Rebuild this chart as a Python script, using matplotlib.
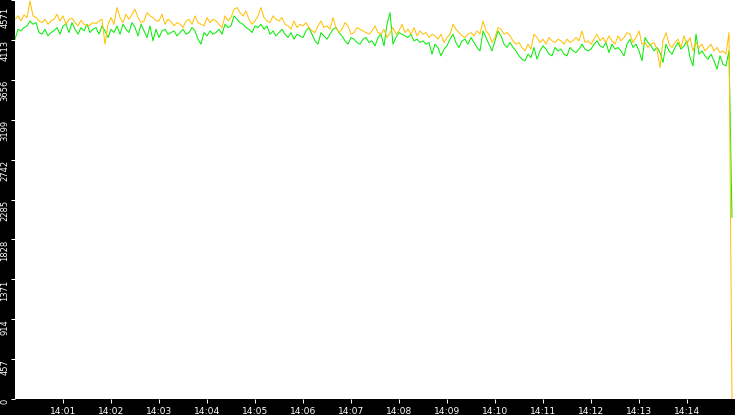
# throughput chart, two noisy series over 15 minutes
import numpy as np
import pandas as pd
import matplotlib
matplotlib.use("Agg")
import matplotlib.pyplot as plt
import matplotlib.transforms as mtransforms

orange_vals = [
    # 14:00 - 14:03
    4350, 4389, 4331, 4400, 4370, 4560, 4389, 4370, 4331, 4312, 4350, 4293,
    4331, 4350, 4408, 4331, 4389, 4293, 4350, 4362, 4312, 4274, 4339, 4293,
    4274, 4286, 4312, 4301, 4331, 4350, 4065, 4293, 4370, 4293, 4484, 4370,
    4312, 4408, 4350, 4408, 4465, 4370, 4312, 4331, 4427, 4389, 4370, 4331,
    # 14:03 - 14:06
    4331, 4408, 4293, 4350, 4324, 4274, 4312, 4293, 4255, 4331, 4350, 4293,
    4389, 4312, 4293, 4274, 4370, 4312, 4350, 4331, 4293, 4255, 4389, 4331,
    4370, 4465, 4484, 4427, 4389, 4446, 4350, 4293, 4331, 4389, 4484, 4370,
    4331, 4312, 4389, 4350, 4331, 4370, 4293, 4274, 4236, 4331, 4255, 4293,
    # 14:06 - 14:09
    4274, 4312, 4255, 4217, 4198, 4274, 4331, 4255, 4274, 4236, 4370, 4255,
    4198, 4236, 4312, 4274, 4179, 4198, 4255, 4236, 4217, 4198, 4179, 4217,
    4274, 4198, 4179, 4236, 4141, 4198, 4255, 4179, 4217, 4293, 4198, 4236,
    4179, 4255, 4160, 4217, 4179, 4198, 4141, 4179, 4160, 4122, 4179, 4084,
    # 14:09 - 14:12
    4141, 4179, 4293, 4236, 4198, 4160, 4141, 4179, 4198, 4160, 4217, 4179,
    4331, 4217, 4179, 4084, 4141, 4255, 4236, 4179, 4198, 4160, 4103, 4065,
    4084, 4027, 3988, 4065, 4008, 4179, 4141, 4084, 4122, 4065, 4141, 4103,
    4084, 4122, 4103, 4065, 4122, 4084, 4103, 4141, 4103, 4217, 4084, 4103,
    # 14:12 - 14:15
    4065, 4122, 4179, 4103, 4141, 4084, 4160, 4103, 4065, 4160, 4103, 4141,
    4198, 4179, 4084, 4141, 4217, 4065, 4084, 4027, 4065, 4084, 4008, 3798,
    4103, 4198, 4065, 4027, 4084, 4122, 4027, 4160, 4065, 4141, 3988, 4084,
    4027, 4065, 3988, 4027, 4065, 3988, 4027, 3969, 3988, 3950, 4198, 0,
]

green_vals = [
    # 14:00 - 14:03
    4122, 4236, 4217, 4255, 4274, 4331, 4293, 4312, 4198, 4179, 4236, 4160,
    4198, 4217, 4255, 4179, 4274, 4293, 4198, 4312, 4236, 4179, 4255, 4217,
    4293, 4198, 4236, 4255, 4179, 4274, 4217, 4141, 4236, 4198, 4274, 4179,
    4293, 4236, 4198, 4312, 4255, 4160, 4293, 4217, 4141, 4274, 4103, 4236,
    # 14:03 - 14:06
    4141, 4217, 4236, 4179, 4198, 4217, 4160, 4198, 4236, 4179, 4198, 4255,
    4217, 4122, 4065, 4198, 4160, 4217, 4179, 4198, 4236, 4179, 4293, 4255,
    4274, 4389, 4350, 4312, 4293, 4255, 4236, 4198, 4274, 4255, 4293, 4236,
    4274, 4179, 4217, 4160, 4198, 4236, 4179, 4141, 4198, 4122, 4179, 4160,
    # 14:06 - 14:09
    4141, 4217, 4255, 4179, 4103, 4065, 4198, 4160, 4122, 4179, 4236, 4255,
    4198, 4160, 4103, 4065, 4141, 4122, 4084, 4065, 4122, 4141, 4084, 4103,
    4046, 4141, 4179, 4046, 4293, 4427, 4065, 4141, 4198, 4179, 4160, 4141,
    4179, 4103, 4122, 4084, 4103, 4065, 4084, 3950, 4065, 4027, 3931, 4008,
    # 14:09 - 14:12
    4046, 4122, 4179, 4084, 4027, 4103, 4122, 4065, 4141, 4084, 4027, 3988,
    4217, 4141, 4065, 3988, 4103, 4217, 4160, 4065, 4027, 4084, 4027, 3988,
    3931, 3893, 3874, 3950, 3912, 4027, 3893, 3988, 4046, 4008, 3950, 3931,
    4027, 3988, 4008, 3950, 3931, 4027, 3988, 3969, 4008, 4065, 4008, 3988,
    # 14:12 - 14:15
    4008, 4065, 4103, 4046, 4027, 4084, 3969, 4065, 4008, 4027, 3988, 3931,
    4065, 4122, 4027, 4065, 3988, 3874, 4141, 4084, 4046, 3988, 4027, 3969,
    3855, 4065, 3988, 3950, 4027, 4084, 4008, 4046, 4103, 3912, 3817, 4179,
    3950, 3988, 3931, 3893, 3950, 3874, 3779, 3931, 3836, 3817, 3988, 2080,
]

y_ticks = [0, 457, 914, 1371, 1828, 2285, 2742, 3199, 3656, 4113, 4571]
x_tick_labels = ["14:01", "14:02", "14:03", "14:04", "14:05", "14:06", "14:07",
                 "14:08", "14:09", "14:10", "14:11", "14:12", "14:13", "14:14"]

day = "2024-01-01 "
times = pd.date_range(day + "14:00:00", periods=len(orange_vals), freq="3750ms")
x_ticks = pd.to_datetime([day + t for t in x_tick_labels])

fig = plt.figure(figsize=(7.35, 4.15), dpi=100, facecolor="black")
ax = fig.add_axes([15 / 735, 16 / 415, 720 / 735, 399 / 415])
ax.set_facecolor("white")

px = 0.72  # one pixel in points
ax.plot(times, green_vals, color="#00ee00", lw=px)
ax.plot(times, orange_vals, color="#ffc000", lw=px)

ax.set_xlim(pd.Timestamp(day + "14:00:00"), pd.Timestamp(day + "14:15:00"))
ax.set_ylim(0, 4571)

for s in ax.spines.values():
    s.set_visible(False)

ax.set_xticks(x_ticks)
ax.set_xticklabels(x_tick_labels, fontsize=6.6, color="white")
ax.set_yticks(y_ticks)
ax.set_yticklabels([str(v) for v in y_ticks], fontsize=6, color="white",
                   rotation=90, va="top", ha="right")
ax.tick_params(axis="both", colors="white", length=4 * px, width=px)
ax.tick_params(axis="x", pad=2.6)
ax.tick_params(axis="y", pad=1.5 * px)

# top label sits a little lower so it stays inside the figure
top_lab = ax.get_yticklabels()[-1]
top_lab.set_transform(top_lab.get_transform() +
                      mtransforms.ScaledTranslation(0, -7 / 100, fig.dpi_scale_trans))

fig.savefig("out.png", dpi=100, facecolor="black")
